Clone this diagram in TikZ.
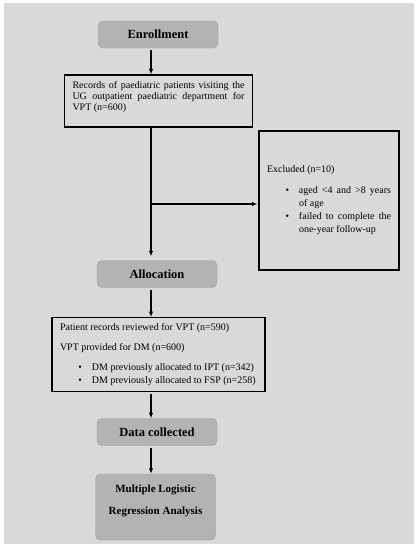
\documentclass[tikz,border=0pt]{standalone}
\usepackage{fontspec}
\setmainfont{Liberation Serif}
\usetikzlibrary{arrows.meta}
\definecolor{pagegray}{HTML}{D9D9D9}
\definecolor{headfill}{HTML}{B3B3B3}
\definecolor{headline}{HTML}{9C9C9C}
\hyphenpenalty=10000
\newcommand{\bulletitem}[1]{\par\hangindent=32pt\hangafter=0\relax\noindent\llap{\textbullet\hspace{10pt}}#1}

\begin{document}
\begin{tikzpicture}[x=1pt, y=-1pt,
    head/.style={draw=headline, fill=headfill, rounded corners=5pt, minimum width=120pt, minimum height=27pt, font=\fontsize{12.5}{15}\selectfont\bfseries},
    txtbox/.style={draw, line width=1.1pt, inner xsep=8pt, align=justify, font=\fontsize{10}{13}\selectfont},
    arr/.style={line width=1.1pt, -{Latex[length=5.5pt,width=4.5pt]}, shorten <=2pt}]
    \fill[white] (0,0) rectangle (420,550);
    \fill[pagegray] (4,3) rectangle (414,544);
    \coordinate (col) at (151,0);
    \node[head] (enrol) at (158,34.5) {Enrollment};
    \node[txtbox, text width=172pt, minimum height=52pt, font=\fontsize{10}{11}\selectfont] (records) at (158.5,101) {Records of paediatric patients visiting the UG outpatient paediatric department for VPT (n=600)\par\mbox{}};
    \node[txtbox, text width=124pt, minimum height=139pt] (excl) at (329,200.5) {Excluded (n=10)\par\vskip8pt\bulletitem{aged <4 and >8 years of age}\bulletitem{failed to complete the one-year follow-up}\par};
    \node[head] (alloc) at (157,274) {Allocation};
    \node[txtbox, text width=197pt, inner ysep=6pt, anchor=north] (reviewed) at (158.5,317) {Patient records reviewed for VPT (n=590)\par\vskip7pt VPT provided for DM (n=600)\par\vskip7pt\bulletitem{DM previously allocated to IPT (n=342)}\bulletitem{DM previously allocated to FSP (n=258)}\par};
    \node[head] (collected) at (157,432) {Data collected};
    \node[head, minimum height=66pt, font=\fontsize{11}{22}\selectfont\bfseries, align=center] (analysis) at (155.5,507) {Multiple Logistic\\Regression Analysis\\[-8pt]\mbox{}};
    \coordinate (branch) at (151,204);
    \draw[arr] (enrol.south -| col) -- (records.north -| col);
    \draw[arr, shorten <=0pt, shorten >=4pt] (records.south -| col) -- (alloc.north -| col);
    \draw[arr, shorten <=0pt, shorten >=1pt] (branch) -- (branch -| excl.west);
    \draw[arr] (alloc.south -| col) -- (reviewed.north -| col);
    \draw[arr] (reviewed.south -| col) -- (collected.north -| col);
    \draw[arr] (collected.south -| col) -- (analysis.north -| col);
\end{tikzpicture}
\end{document}
